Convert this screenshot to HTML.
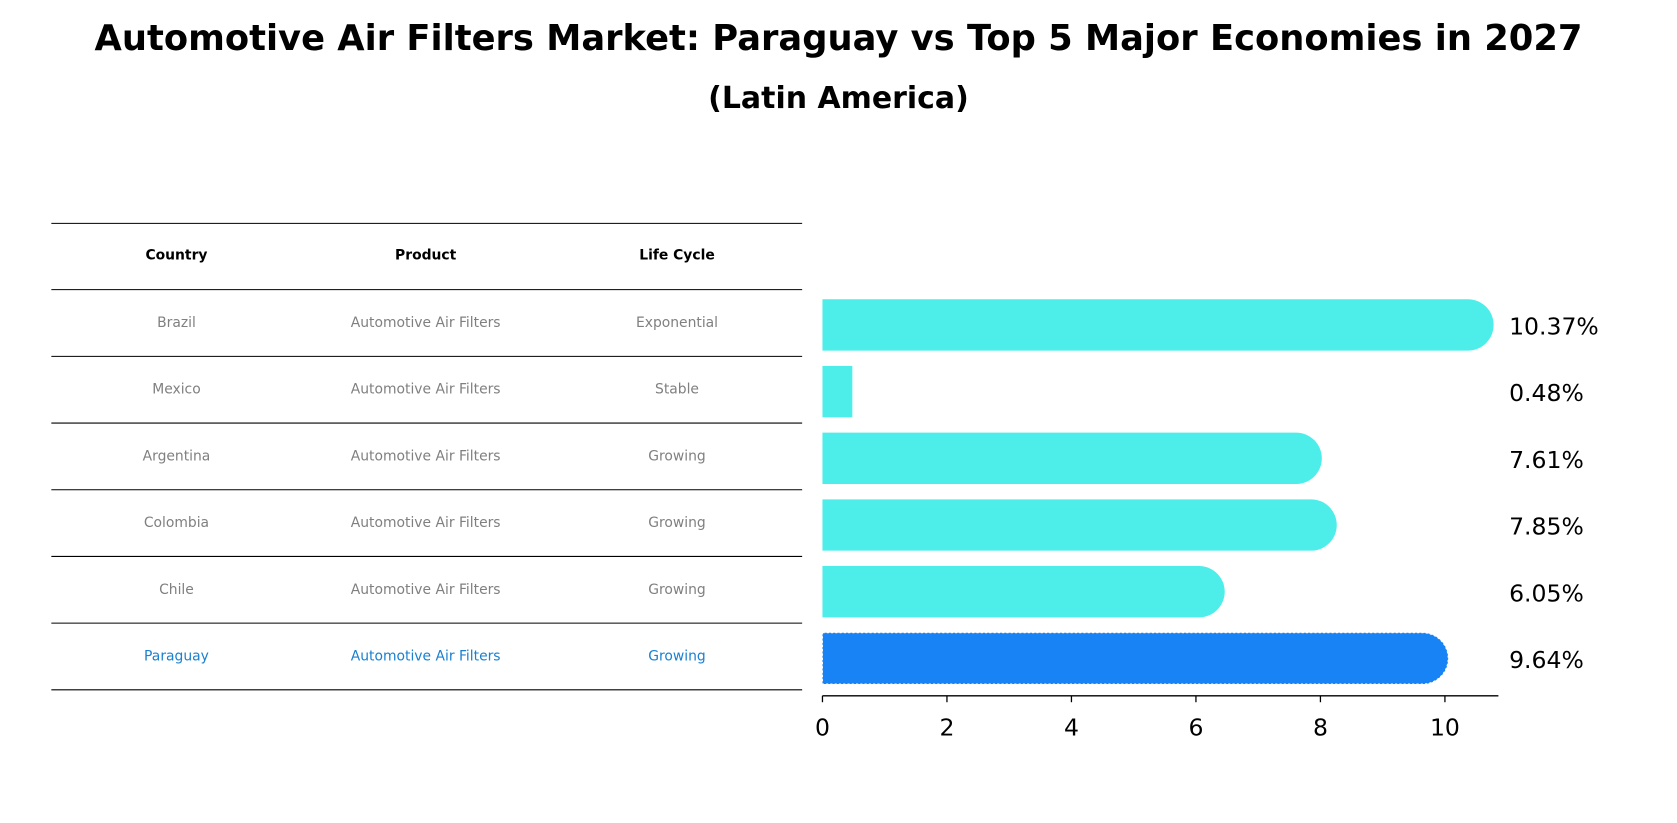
<!DOCTYPE html>
<html><head><meta charset="utf-8"><style>
html,body{margin:0;padding:0;background:#fff;overflow:hidden;width:1677px;height:823px}
#wrap{position:absolute;left:0;top:0;width:1568px;height:770px;transform-origin:0 0;transform:scale(1.06952,1.06883);font-family:"Liberation Sans","DejaVu Sans",sans-serif}
.t{position:absolute;white-space:nowrap}
</style></head><body>
<div id="wrap">
<div class="t" style="left:0;width:1568px;text-align:center;top:16px;font-size:33px;font-weight:bold;font-family:'DejaVu Sans',sans-serif">Automotive Air Filters Market: Paraguay vs Top 5 Major Economies in 2027</div>
<div class="t" style="left:0;width:1568px;text-align:center;top:75px;font-size:28px;font-weight:bold;font-family:'DejaVu Sans',sans-serif">(Latin America)</div>
<svg id="svg" width="1568" height="770" style="position:absolute;left:0;top:0"></svg>
</div>
<script>
const countries=["Brazil","Mexico","Argentina","Colombia","Chile","Paraguay"];
const products=["Automotive Air Filters","Automotive Air Filters","Automotive Air Filters","Automotive Air Filters","Automotive Air Filters","Automotive Air Filters"];
const lifeCycles=["Exponential","Stable","Growing","Growing","Growing","Growing"];
const values=[10.37,0.48,7.61,7.85,6.05,9.64];
const ticks=[0,2,4,6,8,10];
const NS="http://www.w3.org/2000/svg";
const svg=document.getElementById('svg');
function mk(tag,attrs,name){const e=document.createElementNS(NS,tag);for(const k in attrs)e.setAttribute(k,attrs[k]);


svg.appendChild(e);return e;}
const x0=769,pxPer=58.2;
function xs(v){return x0+v*pxPer;}
const rowTop=271,rowH=62.4,barH=48;
function rowY(i){return rowTop+i*rowH;}
// table
const cols=[165,398,633];
mk('line',{x1:48,x2:750,y1:209,y2:209,stroke:'#000','stroke-width':1},'table-top-line');
const hdr=["Country","Product","Life Cycle"];
hdr.forEach((h,j)=>{const t=mk('text',{x:cols[j],y:243,'text-anchor':'middle','font-size':13,'font-weight':'bold','font-family':'DejaVu Sans, sans-serif'},'table-header');t.textContent=h;});
for(let i=0;i<countries.length;i++){
 mk('line',{x1:48,x2:750,y1:rowY(i),y2:rowY(i),stroke:'#000','stroke-width':1},'table-row-line');
 const col=i===countries.length-1?'#1a80d0':'#808080';
 [countries[i],products[i],lifeCycles[i]].forEach((s,j)=>{const t=mk('text',{x:cols[j],y:rowY(i)+35,'text-anchor':'middle','font-size':13,fill:col,'font-family':'DejaVu Sans, sans-serif'},'table-cell');t.textContent=s;});
}
mk('line',{x1:48,x2:750,y1:rowY(countries.length),y2:rowY(countries.length),stroke:'#000','stroke-width':1},'table-bottom-line');
// bars
values.forEach((v,i)=>{
 const cy=rowY(i)+33;const y=cy-barH/2;const xe=xs(v);
 const last=i===values.length-1;const fill=last?'#1783f4':'#4deeea';
 const g=mk('g',{},'bar-'+countries[i].toLowerCase());
 if(v>1){
  mk('path',{d:`M${x0},${y} H${xe} A${barH/2},${barH/2} 0 0 1 ${xe},${y+barH} H${x0} Z`,fill:fill,stroke:last?'#fff':'none','stroke-dasharray':'2,2','stroke-width':last?1:0},'bar-'+countries[i].toLowerCase());
 } else {
  mk('rect',{x:x0,y:y,width:xe-x0,height:barH,fill:fill},'bar-'+countries[i].toLowerCase());
 }
 const t=mk('text',{x:1411,y:cy+9,'font-size':22,'font-family':'DejaVu Sans, sans-serif'},'value-label');t.textContent=v.toFixed(2)+'%';
});
// axis
mk('line',{x1:x0,x2:1401,y1:651,y2:651,stroke:'#000','stroke-width':1.3},'x-axis-line');
ticks.forEach(tv=>{mk('line',{x1:xs(tv),x2:xs(tv),y1:651,y2:657,stroke:'#000','stroke-width':1.2},'x-tick');
 const t=mk('text',{x:xs(tv),y:688,'text-anchor':'middle','font-size':22,'font-family':'DejaVu Sans, sans-serif'},'x-tick-label');t.textContent=tv;});
</script>
</body></html>
